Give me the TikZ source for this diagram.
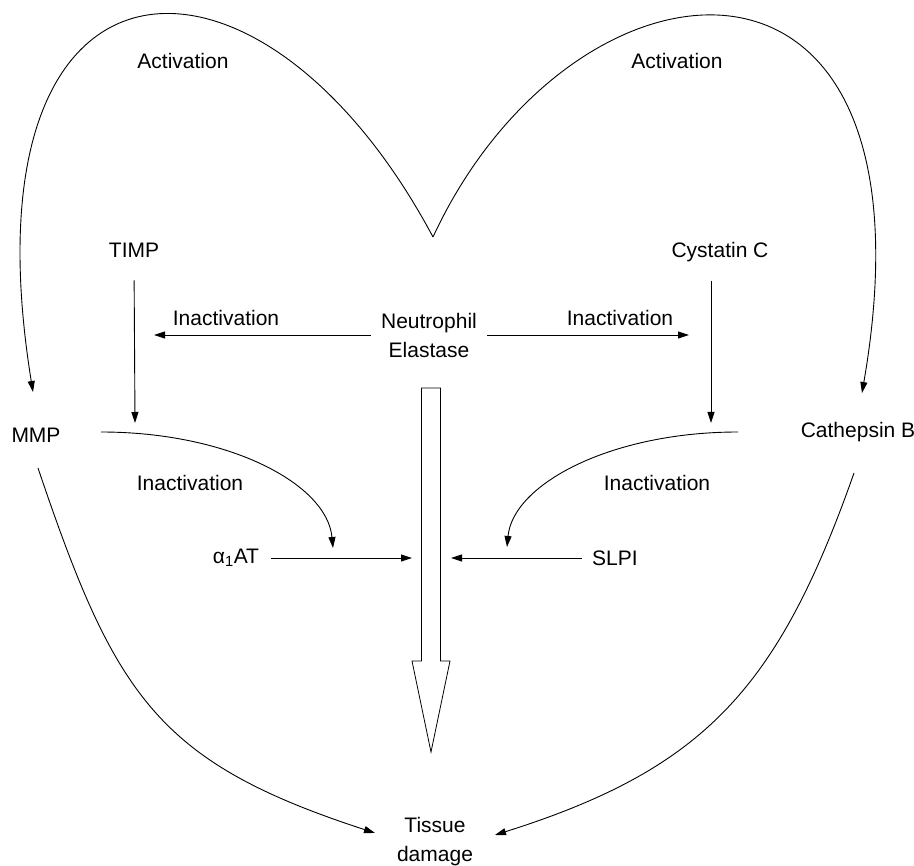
\documentclass[tikz,border=0pt]{standalone}
\usepackage{fontspec}
\setmainfont{Liberation Sans}
\usetikzlibrary{arrows.meta}

\begin{document}
\begin{tikzpicture}[x = 1pt, y = -1pt, line width = 0.9pt,
                    txt/.style = {font = \fontsize{21}{29}\selectfont, inner sep = 0pt},
                    word/.style = {txt, anchor = base},
                    arr/.style = {-{Triangle[length = 11pt, width = 7pt]}}]
  \useasboundingbox (0, 0) rectangle (914, 866);

  % labels
  \node [word] (actl) at (183, 69){Activation};
  \node [word] (actr) at (677, 69){Activation};
  \node [word] (timp) at (134, 258){TIMP};
  \node [word] (cys) at (720, 258){Cystatin C};
  \node [txt, align = center, inner xsep = 10pt] (ela) at (429, 335){Neutrophil\\Elastase};
  \node [word] (inl) at (226, 326){Inactivation};
  \node [word] (inr) at (620, 326){Inactivation};
  \node [word] (mmp) at (36, 443){MMP};
  \node [word] (cat) at (858, 438){Cathepsin B};
  \node [word] (inll) at (190, 491){Inactivation};
  \node [word] (inlr) at (657, 491){Inactivation};
  \node [txt, inner xsep = 12pt] (a1at) at (236, 558){α\textsubscript{1}AT};
  \node [txt, inner xsep = 10pt] (slpi) at (615, 558){SLPI};
  \node [txt, align = center] (tis) at (435, 842){Tissue\\damage};

  % free ends
  \coordinate (top) at (433, 237);
  \coordinate (mmpin) at (33, 392);
  \coordinate (catin) at (862, 393);
  \coordinate (timpend) at (135, 423);
  \coordinate (cysend) at (711, 423);
  \coordinate (elal) at (154, 335);
  \coordinate (elar) at (689, 335);
  \coordinate (mmpout) at (101, 432);
  \coordinate (catout) at (738, 432);
  \coordinate (a1hit) at (333, 548);
  \coordinate (slpihit) at (507, 547);
  \coordinate (a1tip) at (412, 558);
  \coordinate (slpitip) at (451, 558);
  \coordinate (mmpdown) at (38, 468);
  \coordinate (catdown) at (854, 473);
  \coordinate (tisl) at (375, 833);
  \coordinate (tisr) at (495, 835);
  \coordinate (sh) at (431, 388);

  \draw [arr] (top) .. controls +(-174, -326) and +(-75, -465) .. (mmpin);
  \draw [arr] (top) .. controls +(139, -300) and +(85, -493) .. (catin);

  \draw [arr, shorten <= 22pt] (timp.south) -- (timpend);
  \draw [arr, shorten <= 18pt] (cys.south -| cysend) -- (cysend);
  \draw [arr] (ela) -- (elal);
  \draw [arr] (ela) -- (elar);

  \draw [arr] (mmpout) .. controls +(128, 0) and +(-6, -64) .. (a1hit);
  \draw [arr] (catout) .. controls +(-127, 0) and +(6, -63) .. (slpihit);
  \draw [arr] (a1at) -- (a1tip);
  \draw [arr] (slpi) -- (slpitip);

  \draw [arr] (mmpdown) .. controls +(77, 228) and +(-218, -71) .. (tisl);
  \draw [arr] (catdown) .. controls +(-76, 216) and +(209, -66) .. (tisr);

  % hollow arrow
  \draw [line width = 0.8pt] (sh) +(-9.5, 0) -- +(-9.5, 273) -- +(-19, 273) -- +(0, 364)
        -- +(19, 273) -- +(9.5, 273) -- +(9.5, 0) -- cycle;
\end{tikzpicture}
\end{document}
